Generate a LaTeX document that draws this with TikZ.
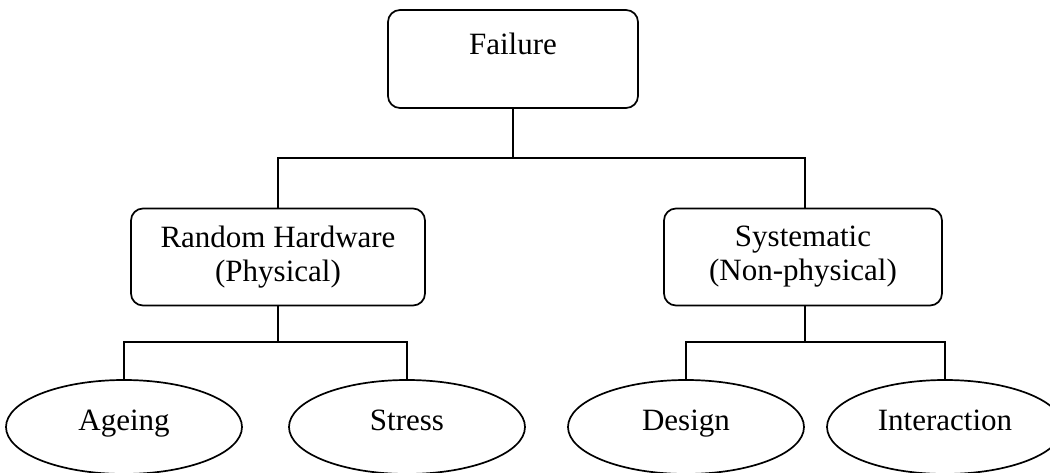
\documentclass[tikz,border=0pt]{standalone}
\usepackage{fontspec}
\setmainfont{Liberation Serif}
\usetikzlibrary{shapes.geometric}
\tikzset{
  box/.style={draw, rounded corners=12pt, line width=1.7pt, align=center, inner sep=0pt},
  leaf/.style={draw, ellipse, line width=1.7pt, minimum width=236pt, minimum height=94pt, inner sep=0pt, text height=18pt, text depth=12pt},
  wire/.style={line width=1.7pt}
}
\begin{document}
\begin{tikzpicture}[x=1pt,y=-1pt,font=\fontsize{31}{34}\selectfont]
\useasboundingbox (0,0) rectangle (1050,473);
\clip (0,0) rectangle (1050,473);
\node[box, minimum width=250pt, minimum height=98pt, text height=20pt, text depth=28pt] (failure) at (513,59) {Failure};
\node[box, minimum width=294pt, minimum height=97pt] (rh) at (278,257) {Random Hardware\\(Physical)};
\node[box, minimum width=278pt, minimum height=97pt] (sys) at (803,257) {Systematic\\(Non-physical)};
\node[leaf] (ageing) at (124,427) {Ageing};
\node[leaf] (stress) at (407,427) {Stress};
\node[leaf] (design) at (686,427) {Design};
\node[leaf] (interaction) at (945,427) {Interaction};
\coordinate (busA) at (0,158);
\coordinate (busB) at (0,342);
\coordinate (dropS) at (805,0);
\draw[wire] (failure.south) -- (failure.south |- busA);
\draw[wire] (rh.north) -- (rh.north |- busA) -- (dropS |- busA) -- (dropS |- sys.north);
\draw[wire] (rh.south) -- (rh.south |- busB);
\draw[wire] (ageing.north) -- (ageing.north |- busB) -- (stress.north |- busB) -- (stress.north);
\draw[wire] (dropS |- sys.south) -- (dropS |- busB);
\draw[wire] (design.north) -- (design.north |- busB) -- (interaction.north |- busB) -- (interaction.north);
\end{tikzpicture}
\end{document}
